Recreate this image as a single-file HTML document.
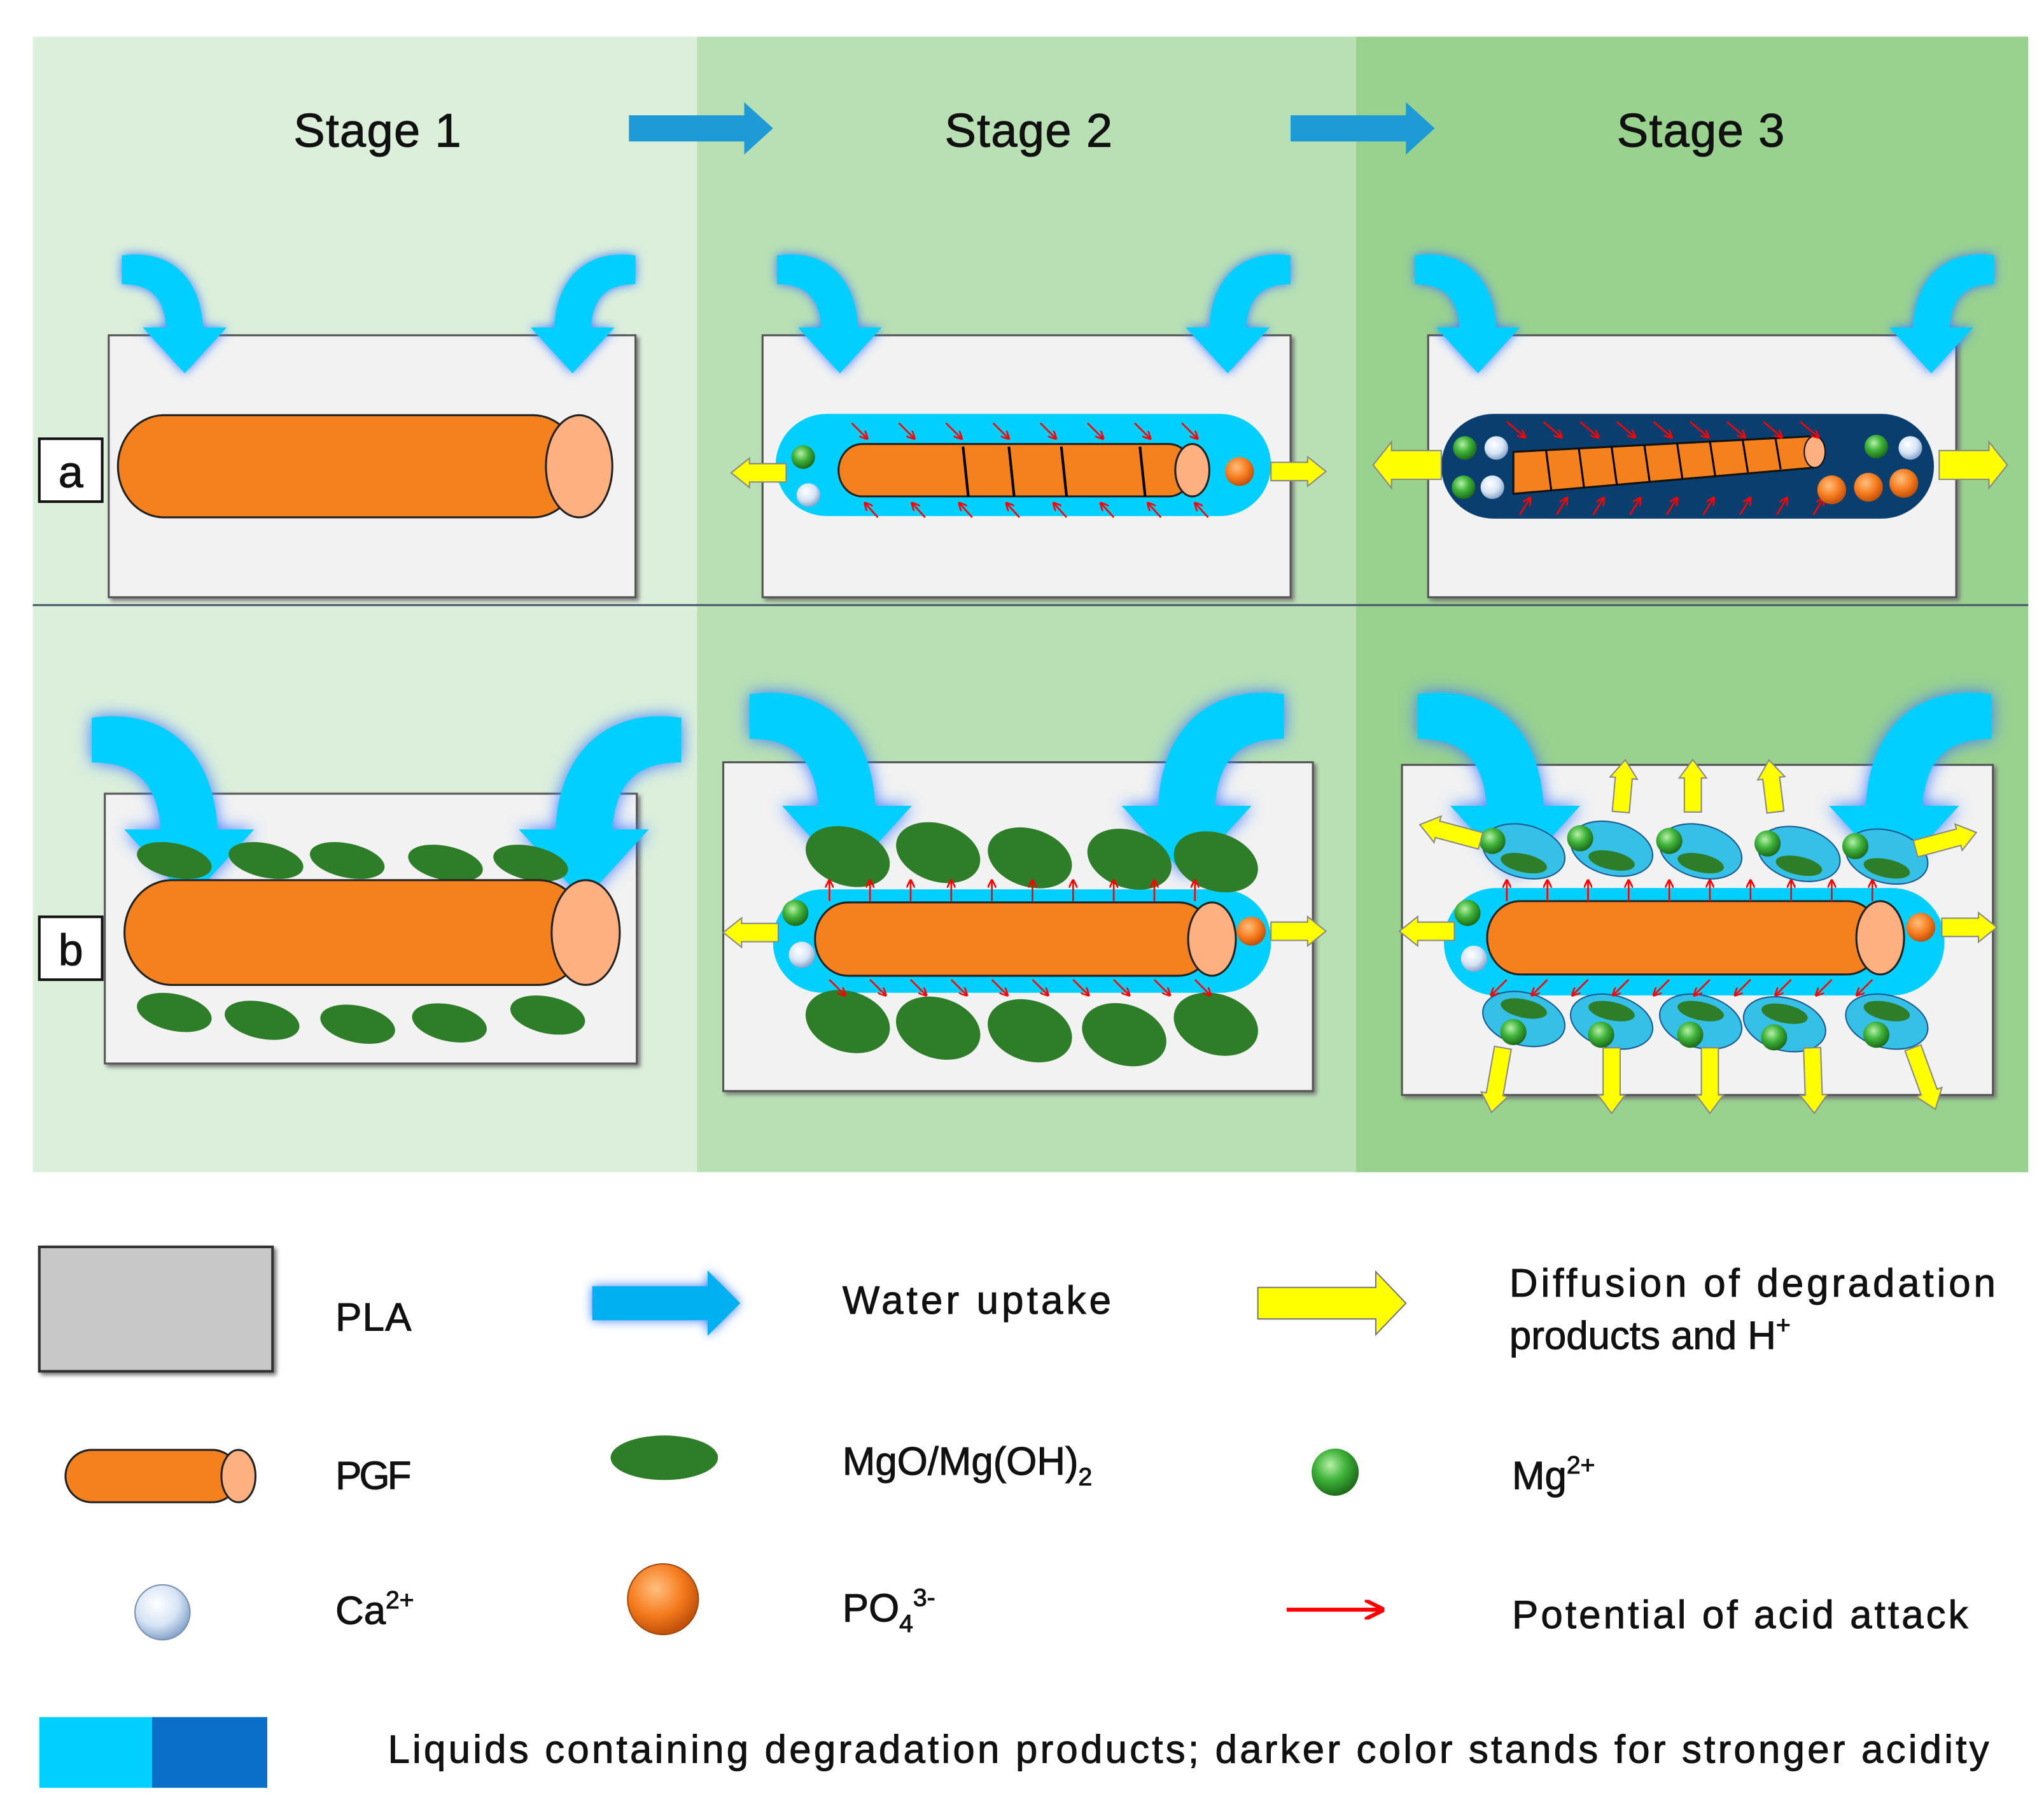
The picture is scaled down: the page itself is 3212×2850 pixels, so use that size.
<!DOCTYPE html>
<html><head><meta charset="utf-8"><style>
html,body{margin:0;padding:0;background:#fff;}
svg{display:block;}
text{font-family:"Liberation Sans","DejaVu Sans",sans-serif;fill:#111;stroke:#111;stroke-width:0.5;}
</style></head><body>
<svg id="s" width="3212" height="2850" viewBox="0 0 1560 1385" preserveAspectRatio="none" xmlns="http://www.w3.org/2000/svg">
<defs>
<filter id="glow" x="-30%" y="-30%" width="160%" height="160%"><feGaussianBlur in="SourceAlpha" stdDeviation="4"/><feFlood flood-color="#3a7bff"/><feComposite operator="in" in2="SourceAlpha"/><feGaussianBlur stdDeviation="4"/><feMerge><feMergeNode/><feMergeNode in="SourceGraphic"/></feMerge></filter>
<filter id="sh"><feDropShadow dx="2" dy="2" stdDeviation="1.5" flood-color="#777"/></filter>
<radialGradient id="gg" cx="40%" cy="35%" r="65%"><stop offset="0" stop-color="#b8f0a8"/><stop offset="0.5" stop-color="#3fb33a"/><stop offset="1" stop-color="#1d6b1a"/></radialGradient>
<radialGradient id="gw" cx="40%" cy="35%" r="65%"><stop offset="0" stop-color="#fff"/><stop offset="0.6" stop-color="#d6e4f5"/><stop offset="1" stop-color="#8aa6cc"/></radialGradient>
<radialGradient id="go" cx="40%" cy="35%" r="65%"><stop offset="0" stop-color="#ffc080"/><stop offset="0.6" stop-color="#f57a1c"/><stop offset="1" stop-color="#c0500a"/></radialGradient>
<marker id="ra" viewBox="0 0 10 10" refX="9" refY="5" markerWidth="5" markerHeight="5" orient="auto"><path d="M0,0 L10,5 L0,10" fill="none" stroke="#f00" stroke-width="2"/></marker>
</defs>
<rect x="25" y="28" width="507" height="867" fill="#dcefdb"/>
<rect x="532" y="28" width="503" height="867" fill="#b9e0b4"/>
<rect x="1035" y="28" width="513" height="867" fill="#99d18f"/>
<line x1="25" y1="462" x2="1548" y2="462" stroke="#4a5a6a" stroke-width="1.5"/>
<text x="224" y="112" font-size="36" textLength="128">Stage 1</text>
<text x="721" y="112" font-size="36" textLength="128">Stage 2</text>
<text x="1234" y="112" font-size="36" textLength="128">Stage 3</text>
<g fill="#1e9ad6"><path d="M480,88 H568 V78 L590,98 L568,118 V108 H480Z"/><path d="M985,88 H1073 V78 L1095,98 L1073,118 V108 H985Z"/></g>
<g id="boxes" fill="#f2f2f2" stroke="#555" stroke-width="1.5" filter="url(#sh)">
<rect x="83" y="256" width="402" height="200"/><rect x="582" y="256" width="403" height="200"/><rect x="1090" y="256" width="403" height="200"/>
<rect x="80" y="606" width="406" height="206"/><rect x="552" y="582" width="450" height="251"/><rect x="1070" y="584" width="451" height="252"/>
</g>
<g id="dyn"></g>
<g fill="#fff" stroke="#111" stroke-width="2"><rect x="30" y="335" width="48" height="48"/><rect x="30" y="700" width="48" height="48"/></g>
<text x="54" y="372" font-size="34" text-anchor="middle">a</text>
<text x="54" y="737" font-size="34" text-anchor="middle">b</text>
<rect x="30" y="952" width="178" height="95" fill="#c8c8c8" stroke="#333" stroke-width="2" filter="url(#sh)"/>
<text x="256" y="1016" font-size="30" textLength="58">PLA</text>
<path d="M452,982 H540 V970 L565,995 L540,1020 V1008 H452Z" fill="#00b0f0" filter="url(#glow)"/>
<text x="643" y="1003" font-size="30" textLength="205">Water uptake</text>
<path d="M960,983 H1050 V971 L1073,995 L1050,1019 V1007 H960Z" fill="#ffff00" stroke="#777" stroke-width="1"/>
<text x="1152" y="990" font-size="30" textLength="371">Diffusion of degradation</text>
<text x="1152" y="1030" font-size="30">products and H<tspan font-size="19" dy="-12">+</tspan></text>
<rect x="50" y="1107" width="132" height="40" rx="20" fill="#f5801e" stroke="#222" stroke-width="1.5"/>
<ellipse cx="182" cy="1127" rx="13" ry="20" fill="#ffb080" stroke="#222" stroke-width="1.5"/>
<text x="256" y="1137" font-size="30" textLength="58">PGF</text>
<ellipse cx="507" cy="1113" rx="41" ry="17" fill="#2e7d28"/>
<text x="643" y="1126" font-size="30">MgO/Mg(OH)<tspan font-size="19" dy="8">2</tspan></text>
<circle cx="1019" cy="1124" r="18" fill="url(#gg)"/>
<text x="1154" y="1137" font-size="30">Mg<tspan font-size="19" dy="-12">2+</tspan></text>
<circle cx="124" cy="1231" r="21" fill="url(#gw)" stroke="#7a90b0"/>
<text x="256" y="1240" font-size="30">Ca<tspan font-size="19" dy="-12">2+</tspan></text>
<circle cx="506" cy="1221" r="27" fill="url(#go)" stroke="#a04a10"/>
<text x="643" y="1238" font-size="30">PO<tspan font-size="19" dy="8">4</tspan><tspan font-size="19" dy="-20">3-</tspan></text>
<line x1="982" y1="1229" x2="1055" y2="1229" stroke="#f00" stroke-width="3" marker-end="url(#ra)"/>
<text x="1154" y="1243" font-size="30" textLength="348">Potential of acid attack</text>
<rect x="30" y="1311" width="86" height="54" fill="#00cfff"/><rect x="116" y="1311" width="88" height="54" fill="#0a6fc8"/>
<text x="296" y="1346" font-size="30" textLength="1222">Liquids containing degradation products; darker color stands for stronger acidity</text>
</svg>
<script>
var NS="http://www.w3.org/2000/svg",g=document.getElementById("dyn");
function el(t,a){var e=document.createElementNS(NS,t);for(var k in a)e.setAttribute(k,a[k]);g.appendChild(e);return e;}
function curve(x,y,dir,s){
 var p="M0,0 C35,-5 60,15 62,55 L80,55 L48,90 L16,55 L34,55 C32,30 20,22 0,22 Z";
 el("path",{d:p,fill:"#00cfff",filter:"url(#glow)",transform:"translate("+x+","+y+") scale("+(dir*s)+","+s+")"});
}
curve(93,195,1,1);curve(485,195,-1,1);curve(593,195,1,1);curve(985,195,-1,1);curve(1080,195,1,1);curve(1522,195,-1,1);
curve(70,548,1,1.55);curve(520,548,-1,1.55);curve(572,530,1,1.55);curve(980,530,-1,1.55);curve(1082,530,1,1.55);curve(1520,530,-1,1.55);
function cyl(x1,x2,cy,r){el("rect",{x:x1,y:cy-r,width:x2-x1,height:2*r,rx:r*0.9,ry:r,fill:"#f5801e",stroke:"#222","stroke-width":1.5});
 el("ellipse",{cx:x2,cy:cy,rx:r*0.65,ry:r,fill:"#ffb080",stroke:"#222","stroke-width":1.5});}
function yarr(x,y,dir,len,w){var h=w*1.6,l=len;var p="M0,"+(-w/2)+" H"+(l-14)+" V"+(-h/2)+" L"+l+",0 L"+(l-14)+","+(h/2)+" V"+(w/2)+" H0Z";
 el("path",{d:p,fill:"#ffff00",stroke:"#888","stroke-width":1,transform:"translate("+x+","+y+") rotate("+dir+")"});}
function ball(x,y,r,f){el("circle",{cx:x,cy:y,r:r,fill:"url(#"+f+")"});}
function red(x1,y1,x2,y2){el("line",{x1:x1,y1:y1,x2:x2,y2:y2,stroke:"#f00","stroke-width":1.3,"marker-end":"url(#ra)"});}
function blob(x,y,rx,ry,rot){el("ellipse",{cx:x,cy:y,rx:rx,ry:ry,fill:"#2e7d28",transform:"rotate("+rot+" "+x+" "+y+")"});}
cyl(90,442,356,39);
el("rect",{x:592,y:316,width:378,height:78,rx:39,fill:"#00cfff"});
cyl(640,910,359,20);
[[735,340],[770,340],[810,340],[870,340]].forEach(function(p){el("path",{d:"M"+p[0]+",341 L"+(p[0]+4)+",379",stroke:"#000","stroke-width":2,fill:"none"});});
for(var i=0;i<8;i++){var x=650+i*36;red(x,323,x+12,335);red(x+20,395,x+10,384);}
ball(613,349,9,"gg");ball(617,378,9,"gw");ball(946,360,11,"go");
yarr(600,361,180,42,14);yarr(970,360,0,42,14);
el("rect",{x:1100,y:316,width:376,height:80,rx:40,fill:"#0a3e6e"});
el("path",{d:"M1155,345 L1385,333 L1385,357 L1155,377 Z",fill:"#f5801e",stroke:"#111","stroke-width":1.5});
el("ellipse",{cx:1385,cy:345,rx:8,ry:12,fill:"#ffb080",stroke:"#111"});
for(var i=0;i<8;i++){var x=1180+i*25;el("path",{d:"M"+x+","+(344-i*1.4)+" L"+(x+4)+","+(375-i*2.4),stroke:"#000","stroke-width":1.5,fill:"none"});}
for(var i=0;i<9;i++){var x=1150+i*28;red(x,322,x+14,334);red(x+10,393,x+18,380);}
ball(1118,342,9,"gg");ball(1142,342,9,"gw");ball(1117,372,9,"gg");ball(1139,372,9,"gw");
ball(1432,341,9,"gg");ball(1458,342,9,"gw");ball(1398,374,11,"go");ball(1426,372,11,"go");ball(1453,369,11,"go");
yarr(1100,355,180,52,22);yarr(1480,355,0,52,22);
[[133,657],[203,657],[265,657],[340,659],[405,659]].forEach(function(p){blob(p[0],p[1],29,13,12);});
[[133,773],[200,779],[273,782],[343,781],[418,775]].forEach(function(p){blob(p[0],p[1],29,14,12);});
cyl(95,447,712,40);
el("rect",{x:590,y:679,width:380,height:79,rx:38,fill:"#00cfff"});
cyl(622,925,717,28);
[[647,654],[716,651],[786,655],[862,656],[928,658]].forEach(function(p){blob(p[0],p[1],33,22,18);});
[[647,780],[716,785],[786,787],[858,790],[928,782]].forEach(function(p){blob(p[0],p[1],33,23,18);});
for(var i=0;i<10;i++){var x=633+i*31;red(x,688,x,672);red(x,748,x+12,760);}
ball(607,697,10,"gg");ball(612,729,10,"gw");ball(955,711,11,"go");
yarr(594,712,180,42,14);yarr(970,711,0,42,14);
el("rect",{x:1102,y:678,width:382,height:82,rx:40,fill:"#00cfff"});
cyl(1135,1435,716,28);
[[1163,650],[1230,648],[1298,650],[1373,652],[1440,654]].forEach(function(p){el("ellipse",{cx:p[0],cy:p[1],rx:32,ry:20,fill:"#36c0e8",stroke:"#1a5a90","stroke-width":1,transform:"rotate(15 "+p[0]+" "+p[1]+")"});blob(p[0],p[1]+9,18,7,12);ball(p[0]-24,p[1]-8,10,"gg");});
[[1163,778],[1230,780],[1298,780],[1362,782],[1440,780]].forEach(function(p){el("ellipse",{cx:p[0],cy:p[1],rx:32,ry:20,fill:"#36c0e8",stroke:"#1a5a90","stroke-width":1,transform:"rotate(15 "+p[0]+" "+p[1]+")"});blob(p[0],p[1]-8,18,7,12);ball(p[0]-8,p[1]+10,10,"gg");});
for(var i=0;i<10;i++){var x=1150+i*31;red(x,688,x,672);red(x,748,x-12,760);}
ball(1120,697,10,"gg");ball(1125,732,10,"gw");ball(1466,708,11,"go");
yarr(1110,711,180,42,14);yarr(1482,708,0,42,14);
yarr(1237,620,-85,40,13);yarr(1292,620,-90,40,13);yarr(1355,620,-97,40,13);
yarr(1130,642,-165,48,13);yarr(1462,648,-15,48,13);
[1147,1230,1305,1383,1460].forEach(function(x,i){yarr(x,800,[100,90,90,88,70][i],50,13);});
</script>
</body></html>
